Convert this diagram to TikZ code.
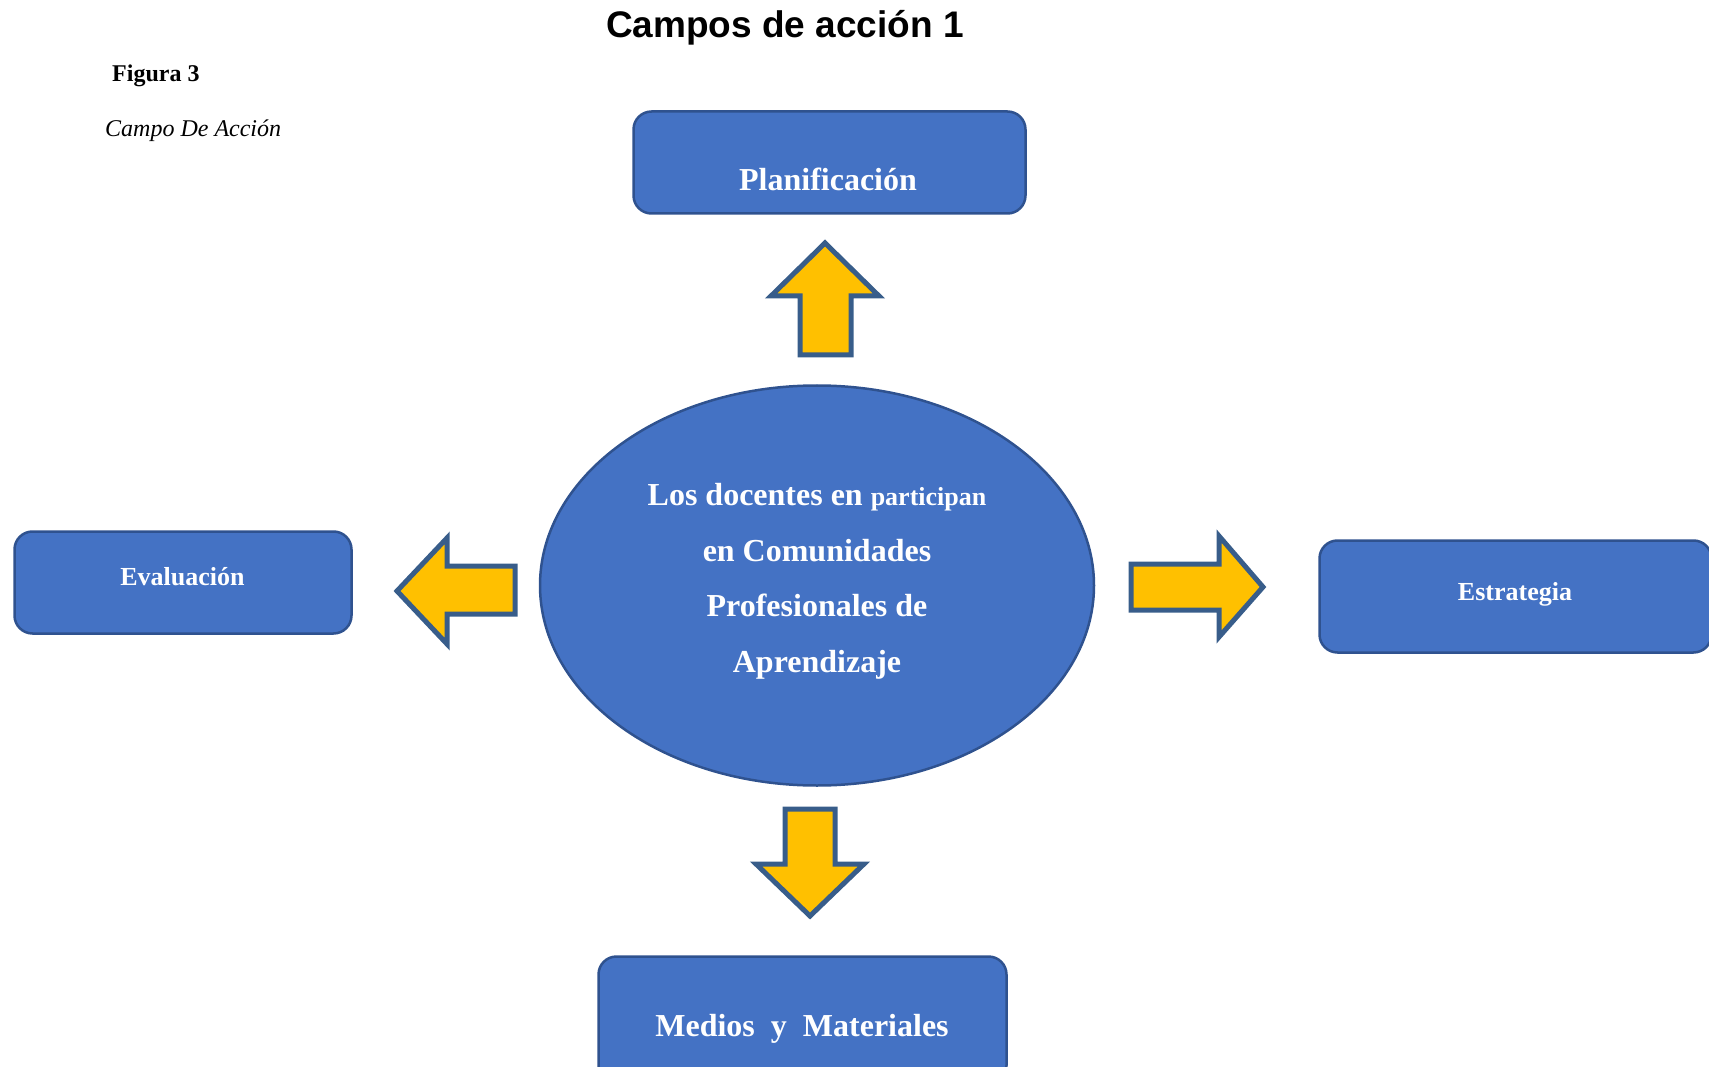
\documentclass[tikz,border=0pt]{standalone}
\usepackage{fontspec}
\setmainfont{Liberation Serif}
\newfontfamily\headfont{Liberation Sans}
\usetikzlibrary{shapes.geometric}
\definecolor{fieldblue}{RGB}{68,114,196}
\definecolor{fieldline}{RGB}{47,82,143}
\definecolor{arrowgold}{RGB}{255,192,0}
\definecolor{arrowline}{RGB}{56,93,138}
\tikzset{
    field/.style =      {rectangle,
                        rounded corners=18pt,
                        fill=fieldblue,
                        draw=fieldline,
                        line width=2.5pt,
                        inner sep=0pt},
    core/.style =       {ellipse,
                        fill=fieldblue,
                        draw=fieldline,
                        line width=2.5pt,
                        inner sep=0pt,
                        minimum width=554pt,
                        minimum height=400pt},
    coretext/.style =   {text=white,
                        align=center,
                        inner sep=0pt,
                        font=\bfseries\fontsize{32}{55.5}\selectfont},
    fieldtext/.style =  {text=white,
                        anchor=base,
                        inner sep=0pt,
                        font=\bfseries\fontsize{32}{38}\selectfont},
    blockarrow/.style = {fill=arrowgold,
                        draw=arrowline,
                        line width=5pt,
                        line join=miter}}

\begin{document}
\begin{tikzpicture}[x=1pt,y=-1pt]
                \useasboundingbox (0,0) rectangle (1709,1067);
                % titulos
                \node[anchor=base, inner sep=0pt, font=\headfont\bfseries\fontsize{37}{44}\selectfont]
                        (titulo) at (785,38) {Campos de acción 1};
                \node[anchor=base west, inner sep=0pt, font=\bfseries\fontsize{24}{28}\selectfont]
                        (fig) at (112,82) {Figura 3};
                \node[anchor=base west, inner sep=0pt, font=\itshape\fontsize{24}{28}\selectfont]
                        (sub) at (105,137) {Campo De Acción};
                % centro
                \node[core]     (C) at (817,585.5)  {};
                \node[coretext] (Ct) at (817,581.5) {Los docentes en {\fontsize{26}{30}\selectfont participan}\\
                                                     en Comunidades\\
                                                     Profesionales de\\
                                                     Aprendizaje};
                % campos
                \node[field, minimum width=392pt, minimum height=102pt] (P) at (829.5,162.5) {};
                \node[field, minimum width=337pt, minimum height=102pt] (E) at (183,582.5)   {};
                \node[field, minimum width=392pt, minimum height=112pt] (S) at (1515.5,596.5) {};
                \node[field, minimum width=408pt, minimum height=127pt] (M) at (802.5,1020)  {};
                \node[fieldtext]                                  (Pt) at (828,191)  {Planificación};
                \node[fieldtext, font=\bfseries\fontsize{26}{30}\selectfont] (Et) at (182.5,585) {Evaluación};
                \node[fieldtext, font=\bfseries\fontsize{26}{30}\selectfont] (St) at (1515,600)  {Estrategia};
                \node[fieldtext]                                  (Mt) at (802,1036) {Medios~~y~~Materiales};
                % flechas
                \draw[blockarrow] (825,243) -- (879,296) -- (851,296) -- (851,355)
                                  -- (800,355) -- (800,296) -- (771,296) -- cycle;
                \draw[blockarrow] (785,809) -- (835,809) -- (835,864) -- (864,864)
                                  -- (810,916) -- (756,864) -- (785,864) -- cycle;
                \draw[blockarrow] (397,591) -- (447,538) -- (447,566) -- (515,566)
                                  -- (515,614) -- (447,614) -- (447,644) -- cycle;
                \draw[blockarrow] (1131,564) -- (1219,564) -- (1219,536) -- (1263,587)
                                  -- (1219,637) -- (1219,610) -- (1131,610) -- cycle;
        \end{tikzpicture}
\end{document}
